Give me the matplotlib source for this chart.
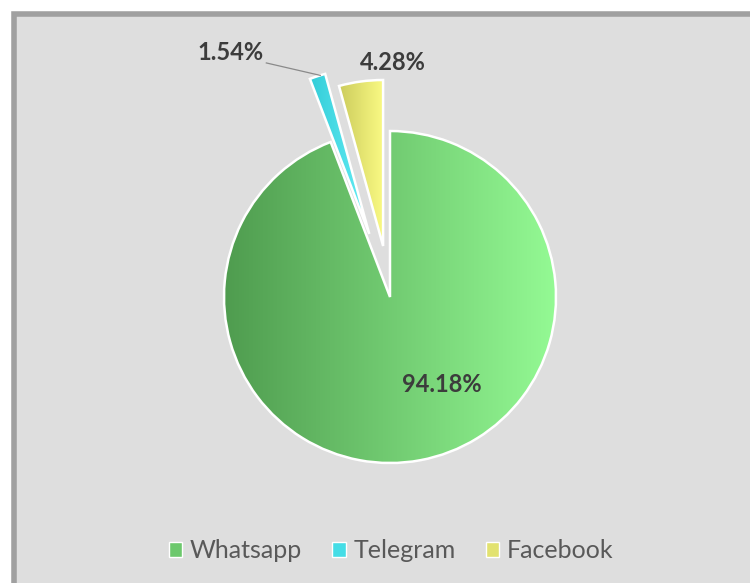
import numpy as np
import matplotlib
matplotlib.use("Agg")
import matplotlib.pyplot as plt
from matplotlib.colors import LinearSegmentedColormap
from matplotlib.patches import Patch, Rectangle

# data
apps = ["Whatsapp", "Telegram", "Facebook"]
shares = [94.18, 1.54, 4.28]

# styling / layout
grad_left = ["#4f9c4f", "#33cdd8", "#cccc5c"]
grad_right = ["#94fa94", "#66eef6", "#fafa84"]
explode = [0.0, 0.40, 0.31]
label_pos = [(0.31, -0.53), (-0.96, 1.475), (0.02, 1.415)]
W, H = 750, 583
cx, cy, R = 390, 583 - 297, 166

plt.rcParams["font.family"] = ["Lato", "DejaVu Sans"]

fig = plt.figure(figsize=(W / 100, H / 100), dpi=100, facecolor="white")

# chart area background with grey frame
fig.patches.append(Rectangle((16 / W, -0.1), 1.0, 1 - 15 / H + 0.1, transform=fig.transFigure,
                             facecolor="#dedede", edgecolor="none", zorder=0))
fig.patches.append(Rectangle((14 / W, -0.1), 1.0, 1 - 14 / H + 0.1, transform=fig.transFigure,
                             facecolor="none", edgecolor="#a0a0a0", lw=4, zorder=1))

ax = fig.add_axes([0, 0, 1, 1])
ax.set_zorder(3)
ax.patch.set_visible(False)

wedges, _ = ax.pie(shares, startangle=90, counterclock=False, explode=explode,
                   radius=1.0, wedgeprops=dict(edgecolor="white", linewidth=1.8))

xlim = (-cx / R, (W - cx) / R)
ylim = (-cy / R, (H - cy) / R)

# horizontal gradient fill inside each wedge
for w, c0, c1 in zip(wedges, grad_left, grad_right):
    cmap = LinearSegmentedColormap.from_list("g", [c0, c1])
    bb = w.get_path().get_extents(w.get_patch_transform())
    img = ax.imshow(np.linspace(0, 1, 256)[None, :], cmap=cmap, aspect="auto",
                    extent=[bb.x0, bb.x1, bb.y0, bb.y1], zorder=1, interpolation="bilinear")
    img.set_clip_path(w)
    w.set_facecolor("none")
    w.set_zorder(2)

ax.set_xlim(*xlim)
ax.set_ylim(*ylim)
ax.axis("off")

for v, (lx, ly) in zip(shares, label_pos):
    ax.text(lx, ly, f"{v:.2f}%", ha="center", va="center", fontsize=17,
            fontweight="bold", color="#3c3c3c", zorder=5)

# leader line for the small slice
ax.plot([-0.745, -0.42], [1.41, 1.335], color="#8a8a8a", lw=0.9, zorder=4)

handles = [Patch(facecolor=c, edgecolor="white", lw=1) for c in
           ["#6cc86c", "#45dde6", "#e2e270"]]
leg = fig.legend(handles, apps, loc="center", bbox_to_anchor=(391 / W, 1 - 551 / H), ncol=3,
                 frameon=False, fontsize=18, handlelength=0.55, handleheight=0.55,
                 handletextpad=0.3, columnspacing=1.2, labelcolor="#595959")
leg.set_zorder(4)

fig.savefig("out.png", dpi=100, facecolor="white")
